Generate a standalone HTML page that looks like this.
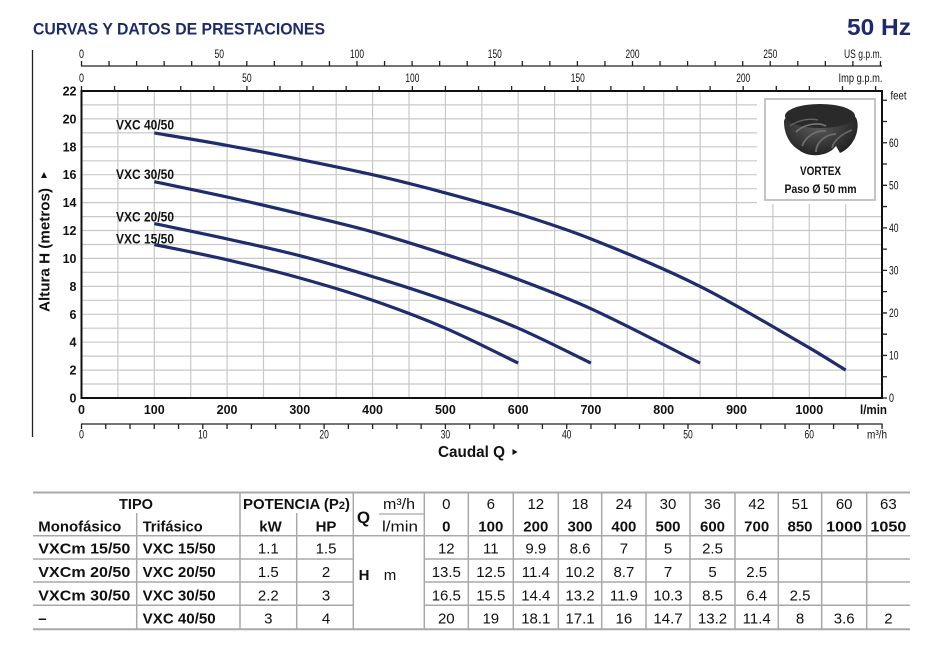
<!DOCTYPE html>
<html><head><meta charset="utf-8"><style>
html,body{margin:0;padding:0;background:#fff;}
svg{display:block;}
text{font-family:"Liberation Sans",sans-serif;fill:#111;}
.b{font-weight:bold;}
.ax{font-size:12px;}
.yl{font-size:12.5px;font-weight:bold;}
.tb{font-size:15px;}
</style></head><body>
<svg width="948" height="655" viewBox="0 0 948 655" xmlns="http://www.w3.org/2000/svg">
<rect width="948" height="655" fill="#fff"/>
<!-- Title -->
<text x="33" y="34.5" font-size="16.5" class="b" style="fill:#1e2b6b" textLength="292" lengthAdjust="spacingAndGlyphs">CURVAS Y DATOS DE PRESTACIONES</text>
<text x="847" y="35" font-size="23" class="b" style="fill:#1e2b6b" textLength="64" lengthAdjust="spacingAndGlyphs">50 Hz</text>

<!-- left vertical line -->
<line x1="32.5" y1="50" x2="32.5" y2="437" stroke="#222" stroke-width="1.3"/>

<!-- US gpm axis -->
<line x1="81" y1="66" x2="882" y2="66" stroke="#222" stroke-width="1.3"/>
<line x1="80.85" y1="63.5" x2="882" y2="63.5" stroke="#222" stroke-width="5" stroke-dasharray="1.3 26.25"/>
<g class="ax" text-anchor="middle">
<text x="81.5" y="58" textLength="5" lengthAdjust="spacingAndGlyphs">0</text>
<text x="219.3" y="58" textLength="9.5" lengthAdjust="spacingAndGlyphs">50</text>
<text x="357" y="58" textLength="14" lengthAdjust="spacingAndGlyphs">100</text>
<text x="494.8" y="58" textLength="14" lengthAdjust="spacingAndGlyphs">150</text>
<text x="632.5" y="58" textLength="14" lengthAdjust="spacingAndGlyphs">200</text>
<text x="770.3" y="58" textLength="14" lengthAdjust="spacingAndGlyphs">250</text>
</g>
<text x="844" y="58" class="ax" textLength="38" lengthAdjust="spacingAndGlyphs">US g.p.m.</text>

<!-- Imp gpm axis -->
<line x1="80.85" y1="88.5" x2="882" y2="88.5" stroke="#222" stroke-width="5" stroke-dasharray="1.3 31.786"/>
<g class="ax" text-anchor="middle">
<text x="81.5" y="82" textLength="5" lengthAdjust="spacingAndGlyphs">0</text>
<text x="246.9" y="82" textLength="9.5" lengthAdjust="spacingAndGlyphs">50</text>
<text x="412.4" y="82" textLength="14" lengthAdjust="spacingAndGlyphs">100</text>
<text x="577.8" y="82" textLength="14" lengthAdjust="spacingAndGlyphs">150</text>
<text x="743.2" y="82" textLength="14" lengthAdjust="spacingAndGlyphs">200</text>
</g>
<text x="838.5" y="82" class="ax" textLength="44" lengthAdjust="spacingAndGlyphs">Imp g.p.m.</text>

<!-- Grid -->
<g stroke="#c8c8c8" stroke-width="1.2">
<line x1="117.9" y1="91" x2="117.9" y2="398"/><line x1="154.3" y1="91" x2="154.3" y2="398"/>
<line x1="190.7" y1="91" x2="190.7" y2="398"/><line x1="227.1" y1="91" x2="227.1" y2="398"/>
<line x1="263.5" y1="91" x2="263.5" y2="398"/><line x1="299.8" y1="91" x2="299.8" y2="398"/>
<line x1="336.2" y1="91" x2="336.2" y2="398"/><line x1="372.6" y1="91" x2="372.6" y2="398"/>
<line x1="409" y1="91" x2="409" y2="398"/><line x1="445.4" y1="91" x2="445.4" y2="398"/>
<line x1="481.8" y1="91" x2="481.8" y2="398"/><line x1="518.2" y1="91" x2="518.2" y2="398"/>
<line x1="554.6" y1="91" x2="554.6" y2="398"/><line x1="590.9" y1="91" x2="590.9" y2="398"/>
<line x1="627.3" y1="91" x2="627.3" y2="398"/><line x1="663.7" y1="91" x2="663.7" y2="398"/>
<line x1="700.1" y1="91" x2="700.1" y2="398"/><line x1="736.5" y1="91" x2="736.5" y2="398"/>
<line x1="772.9" y1="91" x2="772.9" y2="398"/><line x1="809.3" y1="91" x2="809.3" y2="398"/>
<line x1="845.7" y1="91" x2="845.7" y2="398"/>
<line x1="81.5" y1="384" x2="882" y2="384"/><line x1="81.5" y1="370.1" x2="882" y2="370.1"/>
<line x1="81.5" y1="356.1" x2="882" y2="356.1"/><line x1="81.5" y1="342.2" x2="882" y2="342.2"/>
<line x1="81.5" y1="328.2" x2="882" y2="328.2"/><line x1="81.5" y1="314.3" x2="882" y2="314.3"/>
<line x1="81.5" y1="300.3" x2="882" y2="300.3"/><line x1="81.5" y1="286.4" x2="882" y2="286.4"/>
<line x1="81.5" y1="272.4" x2="882" y2="272.4"/><line x1="81.5" y1="258.4" x2="882" y2="258.4"/>
<line x1="81.5" y1="244.5" x2="882" y2="244.5"/><line x1="81.5" y1="230.5" x2="882" y2="230.5"/>
<line x1="81.5" y1="216.6" x2="882" y2="216.6"/><line x1="81.5" y1="202.6" x2="882" y2="202.6"/>
<line x1="81.5" y1="188.7" x2="882" y2="188.7"/><line x1="81.5" y1="174.7" x2="882" y2="174.7"/>
<line x1="81.5" y1="160.8" x2="882" y2="160.8"/><line x1="81.5" y1="146.8" x2="882" y2="146.8"/>
<line x1="81.5" y1="132.9" x2="882" y2="132.9"/><line x1="81.5" y1="118.9" x2="882" y2="118.9"/>
<line x1="81.5" y1="104.9" x2="882" y2="104.9"/>
</g>

<!-- Vortex box -->
<rect x="757" y="92" width="124" height="112" fill="#fff"/>
<rect x="765" y="99" width="110" height="101" fill="#fff" stroke="#c4c4c4" stroke-width="2"/>
<defs>
<radialGradient id="imp" cx="0.45" cy="0.4" r="0.7">
<stop offset="0" stop-color="#5a5a5a"/><stop offset="0.6" stop-color="#333"/><stop offset="1" stop-color="#1a1a1a"/>
</radialGradient>
</defs>
<path d="M784,122 C784,106 852,102 857,120 C860,133 852,148 840,153 L836,146 C828,157 808,158 799,150 C790,145 784,134 784,122 Z" fill="url(#imp)"/>
<ellipse cx="820" cy="116" rx="35" ry="12" fill="#2a2a2a"/>
<path d="M796,132 C804,124 818,122 826,126" stroke="#777" stroke-width="1.6" fill="none"/>
<path d="M802,146 C806,136 816,130 826,131" stroke="#6e6e6e" stroke-width="1.8" fill="none"/>
<path d="M816,152 C816,142 826,134 836,134" stroke="#6e6e6e" stroke-width="1.8" fill="none"/>
<path d="M832,148 C834,140 842,134 852,130" stroke="#6a6a6a" stroke-width="1.6" fill="none"/>
<path d="M790,126 C798,120 810,118 818,120" stroke="#666" stroke-width="1.4" fill="none"/>
<text x="820.5" y="175" font-size="11.5" class="b" text-anchor="middle" textLength="41" lengthAdjust="spacingAndGlyphs">VORTEX</text>
<text x="820.5" y="193" font-size="11.5" class="b" text-anchor="middle" textLength="72" lengthAdjust="spacingAndGlyphs">Paso Ø 50 mm</text>

<!-- Curves -->
<g fill="none" stroke="#1f2c6d" stroke-width="3.2">
<path d="M154.3,132.9 C166.4,135.0 202.9,141.0 227.1,145.4 C251.4,149.8 275.6,154.5 299.8,159.4 C324.1,164.3 348.3,169.1 372.6,174.7 C396.9,180.3 421.1,186.4 445.4,192.9 C469.7,199.4 494.0,206.1 518.2,213.8 C542.4,221.5 566.7,229.2 590.9,238.9 C627.3,253.4 663.7,268.25 700.1,286.4 C736.5,304.55 772.9,326.9 809.3,347.8 C821.4,354.8 833.6,362.7 845.7,370.1"/>
<path d="M154.3,181.7 C166.4,184.25 202.9,191.65 227.1,197.0 C251.4,202.35 275.6,208.0 299.8,213.8 C324.1,219.6 348.3,225.15 372.6,231.9 C396.9,238.65 421.1,246.4 445.4,254.3 C469.7,262.2 494.0,270.3 518.2,279.4 C542.4,288.5 566.7,297.6 590.9,308.7 C627.3,325.4 663.7,345.0 700.1,363.1"/>
<path d="M154.3,223.6 C166.4,226.15 202.9,233.55 227.1,238.9 C251.4,244.25 275.6,249.4 299.8,255.7 C324.1,262.0 348.3,269.2 372.6,276.6 C396.9,284.0 421.1,291.7 445.4,300.3 C469.7,308.9 494.0,317.7 518.2,328.2 C542.4,338.7 578.8,357.3 590.9,363.1"/>
<path d="M154.3,244.5 C166.4,247.05 202.9,254.2 227.1,259.8 C251.4,265.4 275.6,271.25 299.8,278.0 C324.1,284.75 348.3,291.9 372.6,300.3 C396.9,308.7 421.1,317.7 445.4,328.2 C469.7,338.7 506.1,357.3 518.2,363.1"/>
</g>
<g font-size="14" class="b">
<text x="116" y="129.5" textLength="58" lengthAdjust="spacingAndGlyphs">VXC 40/50</text>
<text x="116" y="179" textLength="58" lengthAdjust="spacingAndGlyphs">VXC 30/50</text>
<text x="116" y="221.5" textLength="58" lengthAdjust="spacingAndGlyphs">VXC 20/50</text>
<text x="116" y="243.5" textLength="58" lengthAdjust="spacingAndGlyphs">VXC 15/50</text>
</g>

<!-- Frame -->
<rect x="81.5" y="91" width="800.5" height="307" fill="none" stroke="#111" stroke-width="2"/>

<!-- Y labels -->
<g class="yl" text-anchor="end">
<text x="76.5" y="402.5">0</text>
<text x="76.5" y="374.6">2</text>
<text x="76.5" y="346.7">4</text>
<text x="76.5" y="318.8">6</text>
<text x="76.5" y="290.9">8</text>
<text x="76.5" y="262.9">10</text>
<text x="76.5" y="235">12</text>
<text x="76.5" y="207.1">14</text>
<text x="76.5" y="179.2">16</text>
<text x="76.5" y="151.3">18</text>
<text x="76.5" y="123.4">20</text>
<text x="76.5" y="95.5">22</text>
</g>
<text transform="translate(49.5,312) rotate(-90)" font-size="15" class="b" textLength="124" lengthAdjust="spacingAndGlyphs">Altura H (metros)</text>
<polygon points="41,178 47,178 44,172" fill="#111"/>

<!-- Feet axis -->
<line x1="884.5" y1="398.65" x2="884.5" y2="95" stroke="#222" stroke-width="5" stroke-dasharray="1.3 19.97"/>
<g class="ax">
<text x="889" y="402" textLength="5" lengthAdjust="spacingAndGlyphs">0</text>
<text x="889" y="359.5" textLength="9.5" lengthAdjust="spacingAndGlyphs">10</text>
<text x="889" y="317" textLength="9.5" lengthAdjust="spacingAndGlyphs">20</text>
<text x="889" y="274.5" textLength="9.5" lengthAdjust="spacingAndGlyphs">30</text>
<text x="889" y="232" textLength="9.5" lengthAdjust="spacingAndGlyphs">40</text>
<text x="889" y="189.5" textLength="9.5" lengthAdjust="spacingAndGlyphs">50</text>
<text x="889" y="147" textLength="9.5" lengthAdjust="spacingAndGlyphs">60</text>
<text x="890.5" y="99.5" textLength="16" lengthAdjust="spacingAndGlyphs">feet</text>
</g>

<!-- X l/min labels -->
<g class="yl" text-anchor="middle">
<text x="81.5" y="414">0</text>
<text x="154.3" y="414">100</text>
<text x="227.1" y="414">200</text>
<text x="299.8" y="414">300</text>
<text x="372.6" y="414">400</text>
<text x="445.4" y="414">500</text>
<text x="518.2" y="414">600</text>
<text x="590.9" y="414">700</text>
<text x="663.7" y="414">800</text>
<text x="736.5" y="414">900</text>
<text x="809.3" y="414">1000</text>
</g>
<text x="860" y="414" class="yl" textLength="27" lengthAdjust="spacingAndGlyphs">l/min</text>

<!-- m3/h axis -->
<line x1="81" y1="424" x2="882.5" y2="424" stroke="#222" stroke-width="1.3"/>
<line x1="80.85" y1="426.5" x2="883" y2="426.5" stroke="#222" stroke-width="5" stroke-dasharray="1.3 22.96"/>
<g class="ax" text-anchor="middle">
<text x="81.5" y="438.5" textLength="5" lengthAdjust="spacingAndGlyphs">0</text>
<text x="202.8" y="438.5" textLength="9.5" lengthAdjust="spacingAndGlyphs">10</text>
<text x="324.1" y="438.5" textLength="9.5" lengthAdjust="spacingAndGlyphs">20</text>
<text x="445.4" y="438.5" textLength="9.5" lengthAdjust="spacingAndGlyphs">30</text>
<text x="566.7" y="438.5" textLength="9.5" lengthAdjust="spacingAndGlyphs">40</text>
<text x="688" y="438.5" textLength="9.5" lengthAdjust="spacingAndGlyphs">50</text>
<text x="809.3" y="438.5" textLength="9.5" lengthAdjust="spacingAndGlyphs">60</text>
</g>
<text x="867" y="438.5" class="ax" textLength="20" lengthAdjust="spacingAndGlyphs">m³/h</text>
<text x="438" y="457" font-size="15.5" class="b" textLength="67" lengthAdjust="spacingAndGlyphs">Caudal Q</text>
<polygon points="512.5,449 512.5,455 517.5,452" fill="#111"/>

<!-- Table lines -->
<g stroke="#a8a8a8" stroke-width="1.5">
<line x1="33" y1="492.5" x2="910" y2="492.5" stroke-width="2"/>
<line x1="33" y1="535.8" x2="910" y2="535.8"/>
<line x1="33" y1="559" x2="353.3" y2="559"/><line x1="424.3" y1="559" x2="910" y2="559"/>
<line x1="33" y1="582" x2="353.3" y2="582"/><line x1="424.3" y1="582" x2="910" y2="582"/>
<line x1="33" y1="605.3" x2="353.3" y2="605.3"/><line x1="424.3" y1="605.3" x2="910" y2="605.3"/>
<line x1="33" y1="629.3" x2="910" y2="629.3" stroke-width="2"/>
<line x1="379" y1="514" x2="424.3" y2="514" stroke-width="1.2"/>
<line x1="136.7" y1="513" x2="136.7" y2="629.3"/>
<line x1="296.7" y1="513" x2="296.7" y2="629.3"/>
<line x1="240" y1="492.5" x2="240" y2="629.3"/>
<line x1="353.3" y1="492.5" x2="353.3" y2="629.3"/>
<line x1="424.3" y1="492.5" x2="424.3" y2="629.3"/>
<line x1="468.3" y1="492.5" x2="468.3" y2="629.3"/>
<line x1="513.3" y1="492.5" x2="513.3" y2="629.3"/>
<line x1="558.3" y1="492.5" x2="558.3" y2="629.3"/>
<line x1="601.7" y1="492.5" x2="601.7" y2="629.3"/>
<line x1="646" y1="492.5" x2="646" y2="629.3"/>
<line x1="690" y1="492.5" x2="690" y2="629.3"/>
<line x1="735" y1="492.5" x2="735" y2="629.3"/>
<line x1="778.3" y1="492.5" x2="778.3" y2="629.3"/>
<line x1="821.7" y1="492.5" x2="821.7" y2="629.3"/>
<line x1="866.7" y1="492.5" x2="866.7" y2="629.3"/>
</g>

<!-- Table header -->
<g class="tb">
<text x="136" y="509" class="b" text-anchor="middle" textLength="34" lengthAdjust="spacingAndGlyphs">TIPO</text>
<text x="243" y="509" class="b" textLength="107" lengthAdjust="spacingAndGlyphs">POTENCIA (P<tspan font-size="11">2</tspan>)</text>
<text x="38.3" y="531.5" class="b" textLength="83" lengthAdjust="spacingAndGlyphs">Monofásico</text>
<text x="142.7" y="531.5" class="b" textLength="60" lengthAdjust="spacingAndGlyphs">Trifásico</text>
<text x="270.5" y="531.5" class="b" text-anchor="middle">kW</text>
<text x="326" y="531.5" class="b" text-anchor="middle">HP</text>
<text x="363.5" y="523" font-size="17" class="b" text-anchor="middle">Q</text>
<text x="399" y="509" text-anchor="middle" textLength="32" lengthAdjust="spacingAndGlyphs">m³/h</text>
<text x="400" y="531.5" text-anchor="middle" textLength="36" lengthAdjust="spacingAndGlyphs">l/min</text>
<text x="364" y="580" class="b" text-anchor="middle">H</text>
<text x="390" y="580" text-anchor="middle">m</text>
</g>
<g class="tb" text-anchor="middle">
<text x="446.3" y="509">0</text><text x="490.8" y="509">6</text><text x="535.8" y="509">12</text><text x="580" y="509">18</text><text x="623.9" y="509">24</text><text x="668" y="509">30</text><text x="712.5" y="509">36</text><text x="756.7" y="509">42</text><text x="800" y="509">51</text><text x="844.2" y="509">60</text><text x="888.4" y="509">63</text>
</g>
<g class="tb b" text-anchor="middle">
<text x="446.3" y="531.5">0</text><text x="490.8" y="531.5">100</text><text x="535.8" y="531.5">200</text><text x="580" y="531.5">300</text><text x="623.9" y="531.5">400</text><text x="668" y="531.5">500</text><text x="712.5" y="531.5">600</text><text x="756.7" y="531.5">700</text><text x="800" y="531.5">850</text><text x="844.2" y="531.5" textLength="36" lengthAdjust="spacingAndGlyphs">1000</text><text x="888.4" y="531.5" textLength="36" lengthAdjust="spacingAndGlyphs">1050</text>
</g>

<!-- Table rows labels -->
<g class="tb b">
<text x="38.3" y="553.5" textLength="92" lengthAdjust="spacingAndGlyphs">VXCm 15/50</text>
<text x="142.7" y="553.5" textLength="73" lengthAdjust="spacingAndGlyphs">VXC 15/50</text>
<text x="38.3" y="577" textLength="92" lengthAdjust="spacingAndGlyphs">VXCm 20/50</text>
<text x="142.7" y="577" textLength="73" lengthAdjust="spacingAndGlyphs">VXC 20/50</text>
<text x="38.3" y="600.5" textLength="92" lengthAdjust="spacingAndGlyphs">VXCm 30/50</text>
<text x="142.7" y="600.5" textLength="73" lengthAdjust="spacingAndGlyphs">VXC 30/50</text>
<text x="38.3" y="623.5">–</text>
<text x="142.7" y="623.5" textLength="73" lengthAdjust="spacingAndGlyphs">VXC 40/50</text>
</g>
<g class="tb" text-anchor="middle">
<text x="268.3" y="553.5">1.1</text><text x="326" y="553.5">1.5</text>
<text x="268.3" y="577">1.5</text><text x="326" y="577">2</text>
<text x="268.3" y="600.5">2.2</text><text x="326" y="600.5">3</text>
<text x="268.3" y="623.5">3</text><text x="326" y="623.5">4</text>

<text x="446.3" y="553.5">12</text><text x="490.8" y="553.5">11</text><text x="535.8" y="553.5">9.9</text><text x="580" y="553.5">8.6</text><text x="623.9" y="553.5">7</text><text x="668" y="553.5">5</text><text x="712.5" y="553.5">2.5</text>

<text x="446.3" y="577">13.5</text><text x="490.8" y="577">12.5</text><text x="535.8" y="577">11.4</text><text x="580" y="577">10.2</text><text x="623.9" y="577">8.7</text><text x="668" y="577">7</text><text x="712.5" y="577">5</text><text x="756.7" y="577">2.5</text>

<text x="446.3" y="600.5">16.5</text><text x="490.8" y="600.5">15.5</text><text x="535.8" y="600.5">14.4</text><text x="580" y="600.5">13.2</text><text x="623.9" y="600.5">11.9</text><text x="668" y="600.5">10.3</text><text x="712.5" y="600.5">8.5</text><text x="756.7" y="600.5">6.4</text><text x="800" y="600.5">2.5</text>

<text x="446.3" y="623.5">20</text><text x="490.8" y="623.5">19</text><text x="535.8" y="623.5">18.1</text><text x="580" y="623.5">17.1</text><text x="623.9" y="623.5">16</text><text x="668" y="623.5">14.7</text><text x="712.5" y="623.5">13.2</text><text x="756.7" y="623.5">11.4</text><text x="800" y="623.5">8</text><text x="844.2" y="623.5">3.6</text><text x="888.4" y="623.5">2</text>
</g>
</svg>
</body></html>
